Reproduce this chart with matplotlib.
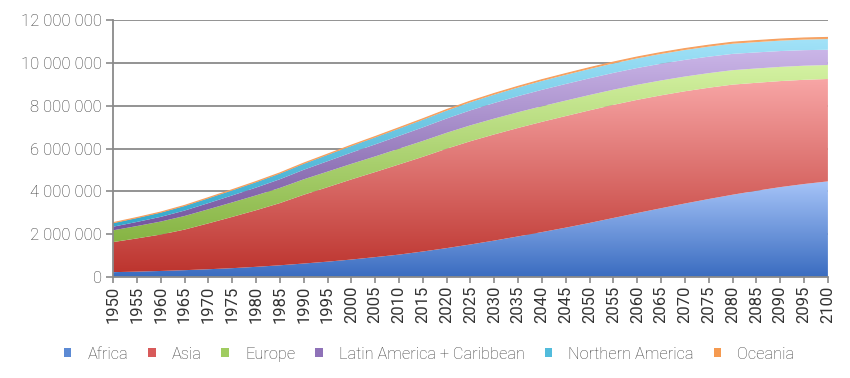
import numpy as np
import matplotlib.pyplot as plt
from matplotlib.colors import LinearSegmentedColormap
from matplotlib.patches import Patch
from matplotlib.ticker import FuncFormatter, MultipleLocator

plt.rcParams['font.family'] = ['Roboto', 'DejaVu Sans']

# population, thousands (UN WPP medium variant)
years = list(range(1950, 2101, 5))
africa = [229, 254, 285, 322, 366, 416, 478, 550, 632, 720, 818, 931, 1049, 1194, 1352,
          1522, 1704, 1899, 2100, 2308, 2528, 2760, 2990, 3215, 3435, 3645, 3845, 4030,
          4200, 4345, 4468]
asia = [1404, 1551, 1700, 1895, 2142, 2393, 2642, 2904, 3210, 3476, 3741, 3973, 4209, 4420,
        4641, 4822, 4957, 5064, 5148, 5210, 5257, 5280, 5285, 5270, 5240, 5195, 5140, 5040,
        4950, 4865, 4780]
europe = [549, 577, 606, 634, 657, 677, 694, 708, 721, 727, 726, 729, 736, 741, 743, 741,
          739, 734, 729, 722, 716, 709, 702, 695, 688, 681, 675, 669, 663, 658, 653]
latam = [169, 192, 220, 253, 288, 325, 364, 405, 446, 486, 526, 561, 595, 634, 668, 700,
         728, 751, 765, 776, 780, 784, 785, 782, 777, 769, 760, 750, 739, 726, 712]
n_america = [173, 187, 204, 219, 231, 242, 254, 267, 280, 296, 313, 328, 344, 357, 369, 381,
             392, 402, 417, 426, 435, 442, 449, 455, 461, 467, 473, 479, 486, 492, 499]
oceania = [12.9, 14.4, 15.9, 17.6, 19.7, 21.6, 23.0, 24.9, 27.0, 29.2, 31.4, 33.6, 36.7,
           39.5, 42.7, 45.8, 48.8, 51.6, 53, 55, 57, 59, 60.5, 62, 63.5, 65, 66.5, 68, 69.5,
           71, 72]

names = ['Africa', 'Asia', 'Europe', 'Latin America + Caribbean', 'Northern America', 'Oceania']
series = [africa, asia, europe, latam, n_america, oceania]
# (bottom colour, top colour) of each gradient fill
grads = [('#3a6cc0', '#a6c4f8'), ('#bd352f', '#f8a6a6'), ('#86b444', '#d4f2a2'),
         ('#74559f', '#cbb6e8'), ('#33a8cc', '#a2e2f8'), ('#f39040', '#f8a868')]
legend_cols = ['#5c8ad4', '#d85a5a', '#a0cc60', '#8f72b8', '#52bcdc', '#f59a50']

fig = plt.figure(figsize=(8.5, 3.78), dpi=100)
ax = fig.add_axes([0.133, 0.267, 0.841, 0.68])

x = np.array(years)
base = np.zeros(len(x))
for vals, (c0, c1) in zip(series, grads):
    top = base + np.array(vals) * 1000
    poly = ax.fill_between(x, base, top, facecolor='none', edgecolor='none', zorder=2)
    cmap = LinearSegmentedColormap.from_list('g', [c0, c1])
    lo, hi = base.min(), top.max()
    grad = np.linspace(0, 1, 256).reshape(-1, 1)
    im = ax.imshow(grad, cmap=cmap, origin='lower', aspect='auto',
                   extent=[x[0], x[-1], lo, hi], interpolation='bilinear', zorder=2)
    im.set_clip_path(poly.get_paths()[0], transform=ax.transData)
    base = top
ax.plot(x, base, color='#f6a060', lw=0.9, zorder=3)

ax.set_xlim(1950, 2100)
ax.set_ylim(0, 12000000)
ax.set_xticks(years)
ax.set_xticklabels([str(y) for y in years], rotation=90)
ax.yaxis.set_major_locator(MultipleLocator(2000000))
ax.yaxis.set_major_formatter(FuncFormatter(lambda v, p: f'{v:,.0f}'.replace(',', ' ')))
ax.grid(axis='y', color='#8a8a8a', lw=1.3, zorder=1)
ax.set_axisbelow(True)
for s in ['top', 'right']:
    ax.spines[s].set_visible(False)
for s in ['left', 'bottom']:
    ax.spines[s].set_color('#8a8a8a')
    ax.spines[s].set_linewidth(1.3)
    ax.spines[s].set_zorder(4)
ax.tick_params(axis='x', colors='#8a8a8a', labelcolor='#333333', labelsize=12,
               length=4, width=1.2, pad=2)
ax.tick_params(axis='y', colors='#8a8a8a', labelcolor='#333333', labelsize=12,
               length=5, width=1.2, pad=3)
for lab in ax.get_yticklabels():
    lab.set_fontweight('light')

handles = [Patch(facecolor=c, edgecolor='none') for c in legend_cols]
leg = fig.legend(handles, names, loc='center', bbox_to_anchor=(0.505, 0.063), ncol=6,
                 frameon=False, handlelength=0.45, handleheight=0.45, handletextpad=1.0,
                 columnspacing=1.2, prop={'size': 11.8, 'weight': 'light'})
for t in leg.get_texts():
    t.set_color('#404040')

fig.savefig('out.png', dpi=100)
